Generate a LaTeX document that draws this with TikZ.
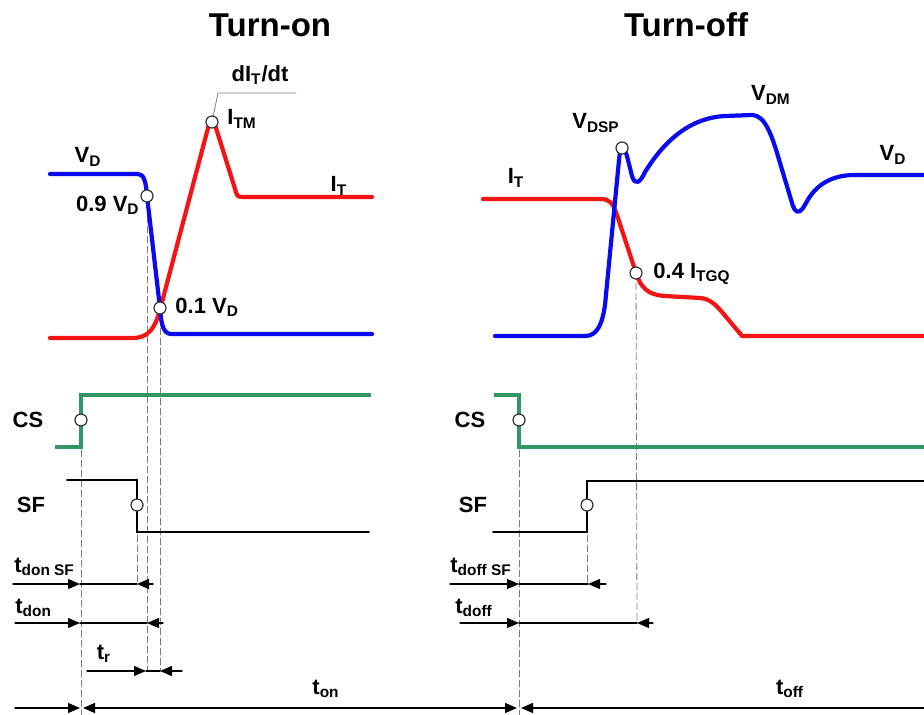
\documentclass[tikz,border=0pt]{standalone}
\usepackage{fontspec}
\setmainfont{Liberation Sans}
\usetikzlibrary{arrows.meta}
\definecolor{vd}{RGB}{10,10,240}
\definecolor{it}{RGB}{245,20,20}
\definecolor{cs}{RGB}{50,150,100}
\definecolor{mu}{RGB}{125,125,125}
\newcommand{\sub}[1]{\textsubscript{#1}}
\tikzset{
  every picture/.style={line cap=round, line join=round,
    >={Triangle[length=6pt,width=5pt]}},
  every node/.style={font=\fontsize{11}{12}\selectfont\bfseries, inner sep=1pt},
  title/.style={font=\fontsize{16.5}{18}\selectfont\bfseries},
  % Kurven
  vline/.style={vd, line width=2.1pt},
  iline/.style={it, line width=2.1pt},
  csline/.style={cs, line width=2.3pt, line join=miter, line cap=butt},
  sfline/.style={black, line width=0.9pt, line join=miter},
  % Hilfslinien
  guide/.style={mu, line width=0.4pt, dash pattern=on 3.5pt off 1.5pt},
  leader/.style={mu, line width=0.4pt},
  dim/.style={black, line width=0.6pt},
  % Messpunkte
  ring/.style={circle, draw=black!80, fill=white, line width=0.6pt,
    minimum size=6pt, inner sep=0pt},
}

\begin{document}
\begin{tikzpicture}[x=0.5pt, y=-0.5pt]
  \useasboundingbox (0,0) rectangle (924,715);
  % Messpunkte (Koordinaten zuerst, Ringe kommen zuletzt)
  \coordinate (p09) at (147,196);
  \coordinate (p01) at (160,308);
  \coordinate (ptm) at (212,122);
  \coordinate (cs1) at (81,420);
  \coordinate (sf1) at (137,505);
  \coordinate (psp) at (622,148);
  \coordinate (p04) at (636,273);
  \coordinate (cs2) at (519,420);
  \coordinate (sf2) at (587,505);
  % senkrechte Hilfslinien
  \draw[guide] (cs1) -- (81,715);
  \draw[guide] (sf1) -- (137,584);
  \draw[guide] (p09) -- (147,671);
  \draw[guide] (p01) -- (160,671);
  \draw[guide] (cs2) -- (519,715);
  \draw[guide] (sf2) -- (587,584);
  \draw[guide] (p04) -- (637,623);

  % Titel
  \node[title] (ton) at (270,25) {Turn-on};
  \node[title] (toff) at (686,25) {Turn-off};

  % Einschalten: V_D und I_T
  \draw[iline] (50,338) -- (132,338) .. controls (148,338) and (155,330) .. (161,306)
    -- (208,128) .. controls (210,119) and (214,119) .. (216,128)
    -- (236,192) .. controls (237,196) and (238,197) .. (243,197) -- (372,197);
  \draw[vline] (50,174) -- (138,174) .. controls (144,174) and (146,182) .. (p09)
    -- (p01) .. controls (161,320) and (162,334) .. (171,334) -- (372,334);
  \draw[leader] (ptm) -- (218,93) -- (296,93);

  % Ausschalten: I_T und V_D
  \draw[iline] (483,199) -- (600,199) .. controls (610,199) and (613,203) .. (617,215)
    -- (p04) .. controls (641,288) and (648,295) .. (665,296)
    -- (700,298) .. controls (710,299) and (715,304) .. (722,312) -- (742,336) -- (924,336);
  \draw[vline] (495,336) -- (585,336) .. controls (597,336) and (602,325) .. (605,305)
    -- (619,160) .. controls (620,146) and (624,145) .. (627,156)
    -- (632,176) .. controls (635,186) and (640,183) .. (645,172)
    .. controls (665,140) and (690,118) .. (725,116) -- (752,115)
    .. controls (765,115) and (772,135) .. (780,163) -- (792,203)
    .. controls (795,214) and (800,215) .. (806,203)
    .. controls (815,186) and (830,175) .. (855,175) -- (924,175);

  % Ansteuersignale CS und SF
  \draw[csline] (55,447) -- (81,447) -- (81,395) -- (371,395);
  \draw[sfline] (67,480) -- (137,480) -- (137,532) -- (369,532);
  \draw[csline] (494,395) -- (519,395) -- (519,447) -- (924,447);
  \draw[sfline] (493,532) -- (587,532) -- (587,481) -- (924,481);

  % Ringe
  \foreach \p in {p09,p01,ptm,cs1,sf1,psp,p04,cs2,sf2}
    \node[ring] (r\p) at (\p) {};

  % Zeitmarken
  \foreach \y/\a/\b/\c/\d in {584/13/80/137/153, 623/15/80/147/163, 671/87/146/160/182,
      584/450/519/588/606, 623/460/519/637/653} {
    \draw[dim,->] (\a,\y) -- (\b,\y);
    \draw[dim] (\b,\y) -- (\c,\y);
    \draw[dim,<-] (\c,\y) -- (\d,\y);
  }
  \draw[dim,->] (15,708) -- (80,708);
  \draw[dim,<->] (83,708) -- (517,708);
  \draw[dim,<-] (521,708) -- (924,708);

  % Beschriftung
  \node (lvd1) at (88,157) {V\sub{D}};
  \node[anchor=east] (l09) at (142,205) {0.9 V\sub{D}};
  \node[anchor=west] (l01) at (173,307) {0.1 V\sub{D}};
  \node[anchor=west] (ltm) at (225,119) {I\sub{TM}};
  \node (ldi) at (260,75) {dI\sub{T}/dt};
  \node (lit1) at (339,186) {I\sub{T}};
  \node (lit2) at (516,178) {I\sub{T}};
  \node (lsp) at (596,123) {V\sub{DSP}};
  \node (ldm) at (771,95) {V\sub{DM}};
  \node (lvd2) at (893,155) {V\sub{D}};
  \node[anchor=west] (l04) at (651,274) {0.4 I\sub{TGQ}};
  \node (lcs1) at (28,420) {CS};
  \node (lsf1) at (31,505) {SF};
  \node (lcs2) at (470,420) {CS};
  \node (lsf2) at (473,505) {SF};
  \node[anchor=west] (ldsf) at (12,567) {t\sub{don SF}};
  \node[anchor=west] (ldon) at (13,608) {t\sub{don}};
  \node (ltr) at (104,654) {t\sub{r}};
  \node (lton) at (326,689) {t\sub{on}};
  \node[anchor=west] (lfsf) at (448,567) {t\sub{doff SF}};
  \node[anchor=west] (ldoff) at (453,608) {t\sub{doff}};
  \node (ltoff) at (790,689) {t\sub{off}};
\end{tikzpicture}
\end{document}
